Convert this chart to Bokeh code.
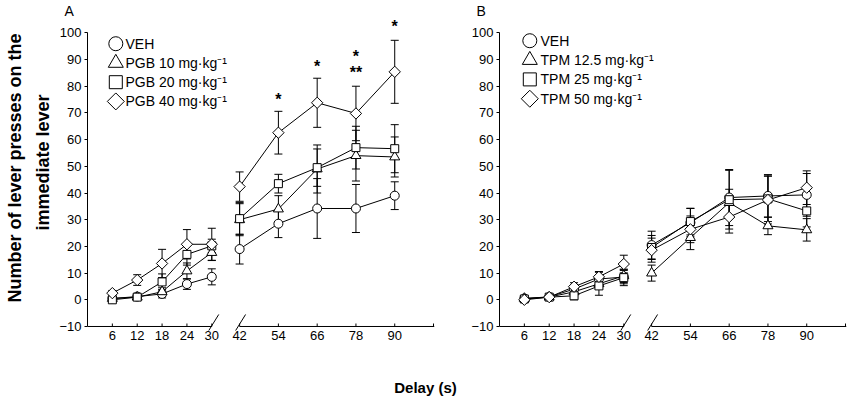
import numpy as np
from bokeh.plotting import figure
from bokeh.layouts import row, column
from bokeh.models import (ColumnDataSource, Whisker, TeeHead, Title,
                          FixedTicker, Range1d)
from bokeh.embed import file_html
from bokeh.resources import INLINE
from bokeh.core.properties import value

# ---------------- data ----------------
delays = [6, 12, 18, 24, 30, 42, 54, 66, 78, 90]
tick_delays = [6, 12, 18, 24, 30, 42, 54, 66, 78, 90, 102]
tick_labels = ["6", "12", "18", "24", "30", "42", "54", "66", "78", "90", ""]
y_ticks = [-10, 0, 10, 20, 30, 40, 50, 60, 70, 80, 90, 100]

# Panel A (pregabalin)
a_labels = ["VEH", "PGB 10 mg·kg⁻¹", "PGB 20 mg·kg⁻¹", "PGB 40 mg·kg⁻¹"]
a_veh = [0.5, 1.2, 2.2, 5.9, 8.6, 19.0, 28.5, 34.2, 34.2, 39.0]
a_veh_sem = [0.5, 1.0, 1.5, 2.0, 3.0, 5.6, 5.2, 11.2, 9.0, 5.2]
a_pgb10 = [0.5, 1.0, 3.0, 10.8, 17.7, 30.0, 34.0, 49.0, 54.0, 53.5]
a_pgb10_sem = [0.5, 0.8, 1.5, 3.0, 3.0, 6.0, 5.0, 9.0, 9.5, 7.5]
a_pgb20 = [0.0, 1.0, 6.7, 17.0, 20.2, 30.4, 43.5, 49.5, 57.0, 56.6]
a_pgb20_sem = [0.5, 0.8, 3.0, 4.0, 2.5, 6.0, 3.5, 7.0, 8.0, 9.0]
a_pgb40 = [2.5, 7.4, 13.6, 20.8, 20.8, 42.4, 62.6, 73.8, 69.8, 85.4]
a_pgb40_sem = [1.0, 2.0, 5.3, 5.5, 6.0, 5.5, 8.0, 9.2, 10.2, 11.8]

a_star_delays = [54, 66, 78, 78, 90]
a_star_y = [76.5, 88.9, 92.7, 86.5, 104.0]
a_star_text = ["*", "*", "*", "**", "*"]

# Panel B (topiramate)
b_labels = ["VEH", "TPM 12.5 mg·kg⁻¹", "TPM 25 mg·kg⁻¹", "TPM 50 mg·kg⁻¹"]
b_veh = [0.5, 1.1, 4.0, 7.8, 8.5, 20.5, 28.9, 38.3, 38.9, 39.3]
b_veh_sem = [0.8, 1.0, 1.5, 2.5, 2.5, 5.2, 5.3, 10.5, 8.0, 8.0]
b_tpm12 = [0.5, 1.0, 3.0, 6.0, 9.0, 10.0, 23.3, 36.4, 27.7, 26.2]
b_tpm12_sem = [0.5, 1.0, 1.5, 2.0, 2.5, 3.0, 4.5, 5.0, 3.3, 4.2]
b_tpm25 = [0.3, 1.0, 1.5, 5.2, 8.3, 19.6, 29.3, 37.5, 37.8, 33.3]
b_tpm25_sem = [0.5, 0.8, 1.5, 3.5, 3.0, 4.5, 5.0, 11.0, 8.5, 6.0]
b_tpm50 = [0.0, 1.0, 4.9, 8.6, 13.4, 18.6, 26.4, 31.0, 37.4, 42.0]
b_tpm50_sem = [0.5, 1.0, 1.5, 2.0, 3.3, 4.5, 5.0, 6.0, 9.0, 6.3]

# marker styles
markers = ["circle", "triangle", "square", "square"]
plot_sizes = [9, 10, 8, 8]
legend_sizes = [14, 15, 13, 12]
angles = [0, 0, 0, np.pi / 4]

FONT = "Liberation Sans"

X_START, X_END = -25, 324
Y_START, Y_END = -11.5, 105.37
FRAME_W, FRAME_H = 347, 313
PANEL_H = 372
PX_PER_X = FRAME_W / (X_END - X_START)
PX_PER_Y = FRAME_H / (Y_END - Y_START)
FRAME_TOP = 17


def xpos(d):
    """Broken delay axis: 6-30 s at 25 units per 6 s, 42-102 s at 39 units per 12 s."""
    d = np.asarray(d, dtype=float)
    return np.where(d <= 30, (d - 6) / 6 * 25, 128 + (d - 42) / 12 * 39)


def make_panel(letter, labels, means, sems, width, border_left, border_right,
               legend_px, stars=None, y_label=False):
    p = figure(width=width, height=PANEL_H, x_range=Range1d(X_START, X_END),
               y_range=Range1d(Y_START, Y_END), output_backend="svg", toolbar_location=None,
               min_border_left=border_left, min_border_right=border_right,
               min_border_top=FRAME_TOP, min_border_bottom=PANEL_H - FRAME_TOP - FRAME_H)
    p.outline_line_color = None
    p.grid.visible = False

    p.title.text = letter
    p.title.align = "left"
    p.title.offset = -23
    p.title.standoff = 0
    p.title.text_font = FONT
    p.title.text_font_size = "14px"
    p.title.text_font_style = "normal"
    p.title.text_color = "black"

    # y axis
    p.yaxis.bounds = (-10, 100)
    p.yaxis.ticker = FixedTicker(ticks=y_ticks, minor_ticks=[])
    p.yaxis.major_tick_out = 3
    p.yaxis.major_tick_in = 0
    p.yaxis.minor_tick_line_color = None
    p.yaxis.major_label_standoff = 3
    p.yaxis.axis_line_color = "black"
    p.yaxis.major_tick_line_color = "black"
    p.yaxis.major_label_text_font = FONT
    p.yaxis.major_label_text_font_size = "13px"
    p.yaxis.major_label_text_color = "black"

    # x axis: labels from the axis, line/ticks/breaks drawn at y = -10
    xt = [int(v) for v in xpos(tick_delays)]
    p.xaxis.ticker = FixedTicker(ticks=xt, minor_ticks=[])
    p.xaxis.major_label_overrides = {k: lab for k, lab in zip(xt, tick_labels)}
    p.xaxis.axis_line_color = None
    p.xaxis.major_tick_line_color = None
    p.xaxis.minor_tick_line_color = None
    p.xaxis.major_tick_in = 0
    p.xaxis.major_tick_out = 0
    p.xaxis.major_label_standoff = 0
    p.xaxis.major_label_text_font = FONT
    p.xaxis.major_label_text_font_size = "13px"
    p.xaxis.major_label_text_color = "black"

    x30, x42 = float(xpos(30)), float(xpos(42))
    p.segment(x0=[X_START, x42], y0=[-10, -10], x1=[x30, X_END], y1=[-10, -10],
              line_color="black", line_width=1)
    tick_len = 3 / PX_PER_Y
    p.segment(x0=xt, y0=[-10] * len(xt), x1=xt, y1=[-10 + tick_len] * len(xt),
              line_color="black", line_width=1)
    hx, hy, cy = 6.0, 3.6, -9.1
    p.segment(x0=[x30 + 1 - hx, x42 - hx], y0=[cy - hy, cy - hy],
              x1=[x30 + 1 + hx, x42 + hx], y1=[cy + hy, cy + hy],
              line_color="black", line_width=1)

    x = xpos(delays)
    sources = []
    for m, s in zip(means, sems):
        m = np.asarray(m, float)
        s = np.asarray(s, float)
        sources.append(ColumnDataSource(dict(x=x, y=m, upper=m + s, lower=m - s)))

    for src in sources:
        p.add_layout(Whisker(source=src, base="x", upper="upper", lower="lower",
                             line_color="black", line_width=1, level="underlay",
                             upper_head=TeeHead(size=8, line_color="black", line_width=1),
                             lower_head=TeeHead(size=8, line_color="black", line_width=1)))
    for m in means:
        p.line(x[:5], m[:5], line_color="black", line_width=1)
        p.line(x[5:], m[5:], line_color="black", line_width=1)
    for src, mk, sz, ang in zip(sources, markers, plot_sizes, angles):
        p.scatter("x", "y", source=src, marker=mk, size=sz, angle=ang, fill_color="white",
                  line_color="black", line_width=1)

    # legend rows inside the frame
    frame_left = border_left
    mx_px, my_px, step_px, tx_px = legend_px

    def dx(px):
        return (px - frame_left) / PX_PER_X + X_START

    def dy(py):
        return Y_END - (py - FRAME_TOP) / PX_PER_Y

    for i, (lab, mk, sz, ang) in enumerate(zip(labels, markers, legend_sizes, angles)):
        ly = dy(my_px + i * step_px)
        p.scatter(x=[dx(mx_px)], y=[ly], marker=mk, size=sz, angle=ang,
                  fill_color="white", line_color="black", line_width=1)
        p.text(x=[dx(tx_px)], y=[ly], text=[lab], text_align="left", text_baseline="middle",
               text_font=value(FONT), text_font_size="14px", text_color="black")

    if stars is not None:
        sd, sy, st = stars
        p.text(x=xpos(sd), y=sy, text=st, text_align="center", text_baseline="middle",
               text_font=value(FONT), text_font_size="16px", text_font_style="bold",
               text_color="black", y_offset=4)

    if y_label:
        bottom = FRAME_TOP + FRAME_H
        for txt, text_bottom, standoff in [("immediate lever", 230, 8),
                                           ("Number of lever presses on the", 302, 4)]:
            t = Title(text=txt, align="left", offset=bottom - text_bottom, standoff=standoff,
                      text_font=FONT, text_font_size="18px", text_font_style="bold",
                      text_color="black")
            p.add_layout(t, "left")
    return p


pA = make_panel("A", a_labels,
                [a_veh, a_pgb10, a_pgb20, a_pgb40],
                [a_veh_sem, a_pgb10_sem, a_pgb20_sem, a_pgb40_sem],
                width=465, border_left=87, border_right=31,
                legend_px=(115.3, 42.3, 19.3, 125.0),
                stars=(a_star_delays, a_star_y, a_star_text), y_label=True)
pB = make_panel("B", b_labels,
                [b_veh, b_tpm12, b_tpm25, b_tpm50],
                [b_veh_sem, b_tpm12_sem, b_tpm25_sem, b_tpm50_sem],
                width=385, border_left=34, border_right=4,
                legend_px=(529.3 - 465, 39.3, 19.4, 540.0 - 465))

# shared x-axis title centred under both panels
pD = figure(width=850, height=402 - PANEL_H, x_axis_location=None, y_axis_location=None,
            output_backend="svg", toolbar_location=None,
            min_border_left=0, min_border_right=0, min_border_top=0, min_border_bottom=0)
pD.outline_line_color = None
pD.grid.visible = False
pD.title.text = "Delay (s)"
pD.title.align = "center"
pD.title.standoff = 8
pD.title.text_font = FONT
pD.title.text_font_size = "15px"
pD.title.text_font_style = "bold"
pD.title.text_color = "black"

layout = column(row(pA, pB, spacing=0), pD, spacing=0)
open("out.html", "w").write(file_html(layout, INLINE))
